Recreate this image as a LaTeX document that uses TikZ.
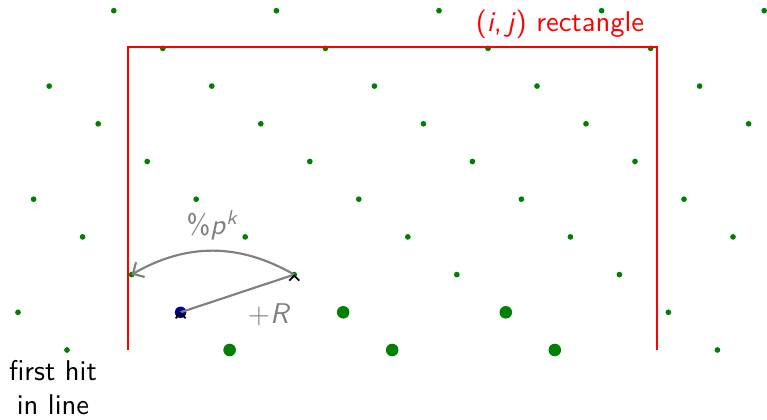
\documentclass[tikz,border=0pt]{standalone}
\usepackage{amsmath,amssymb}
\usepackage{xcolor}
\usepackage{tikz}
\usetikzlibrary{arrows.meta,calc}

\definecolor{latgreen}{rgb}{0,0.5,0}
\definecolor{hitblue}{rgb}{0,0,0.55}
\tikzset{
  stepline/.style={draw=gray,line width=0.75pt},
  hitmark/.pic={\draw[black,line width=0.6pt] (-5,6) -- (0,1) -- (5,6);}
}

\begin{document}
\begin{tikzpicture}[x=0.35pt,y=-0.35pt,font=\sffamily]
  \useasboundingbox (0,0) rectangle (767,420);
  % lattice rows, each one shifted left going up
  \foreach \r in {0,...,9} {
    \pgfmathsetmacro\xs{mod(67-49*\r+1626,162.6)}
    \pgfmathsetmacro\ys{350-37.7*\r}
    \foreach \i in {0,...,4} {
      \pgfmathsetmacro\xx{\xs+162.6*\i}
      \coordinate (d-\r-\i) at (\xx,\ys);
      \pgfmathtruncatemacro\inside{and(\xx>3,\xx<766)}
      \ifnum\inside=1 \fill[latgreen] (d-\r-\i) circle (1pt);\fi
    }}
  \draw[red,line width=0.8pt] (128,350) -- (128,47) -- (657,47) -- (657,350);
  \node[red,anchor=base] (rectlabel) at (560,32) {(\textit{i},\,\textit{j}) rectangle};
  \foreach \c in {d-0-1,d-0-2,d-0-3,d-1-2,d-1-3} \fill[latgreen] (\c) circle (2.2pt);
  \fill[hitblue] (d-1-1) circle (2pt);
  \draw[stepline] (d-1-1) -- node[below right,gray] (steplabel) {+\textit{R}} (d-2-1);
  \draw[stepline,-{Straight Barb[length=3pt,width=6pt]}] (d-2-1) to[bend right=30] node[above,gray] (modlabel) {\%\textit{p}\textsuperscript{\textit{k}}} (d-2-0);
  \pic at (d-1-1) {hitmark};
  \pic at (d-2-1) {hitmark};
  \node[align=center,anchor=north] (hitlabel) at (53,350) {first hit\\in line};
\end{tikzpicture}
\end{document}
